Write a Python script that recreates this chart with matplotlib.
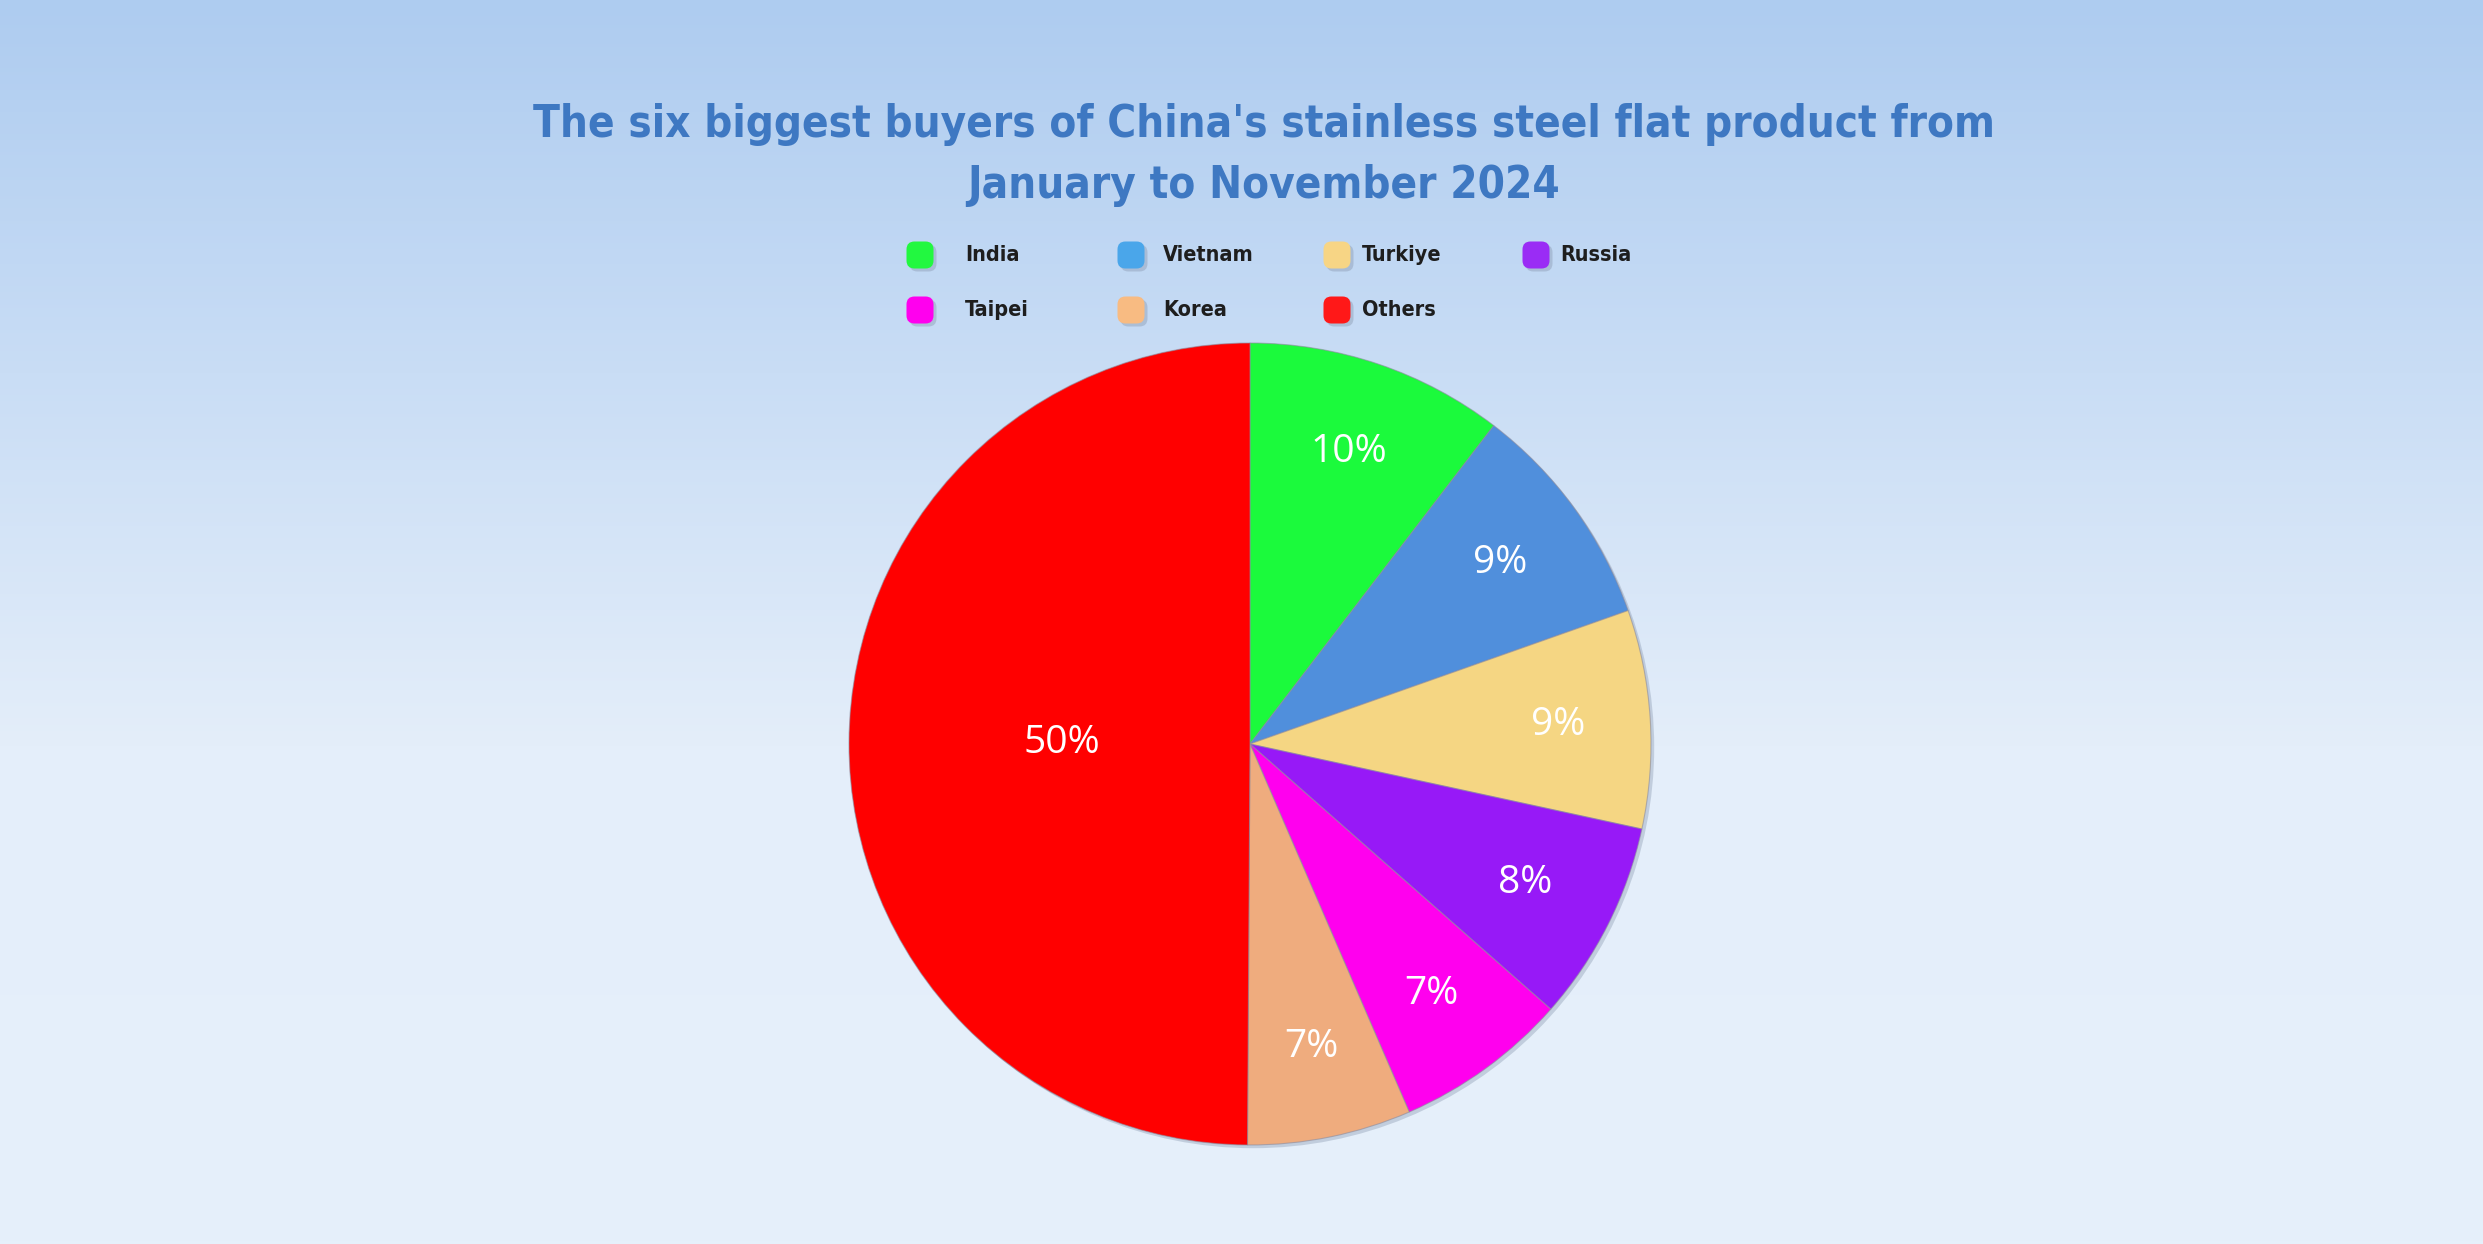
import numpy as np
import matplotlib
matplotlib.use("Agg")
import matplotlib.pyplot as plt
from matplotlib.patches import FancyBboxPatch, Circle

# data
countries = ["India", "Vietnam", "Turkiye", "Russia", "Taipei", "Korea", "Others"]
shares = [10.4, 9.2, 8.8, 8.1, 7.0, 6.6, 49.9]
pie_colors = ["#1bfa3c", "#508fdc", "#f5d683", "#9719f7", "#ff00ee", "#efac7e", "#ff0000"]
legend_colors = ["#22f840", "#4aa6ea", "#f7d585", "#9a2cf5", "#ff00ee", "#f8bb82", "#ff1818"]
title = "The six biggest buyers of China's stainless steel flat product from\nJanuary to November 2024"

W, H = 2483, 1244

fig = plt.figure(figsize=(W / 100, H / 100), dpi=100)

# background gradient, bg axes works in pixel coords
bg = fig.add_axes([0, 0, 1, 1])
top = np.array([174, 204, 240]) / 255
mid = np.array([228, 238, 250]) / 255
bot = np.array([230, 240, 251]) / 255
t = np.linspace(0, 1, 400)[:, None]
grad = np.where(t < 0.6, top + (mid - top) * (t / 0.6), mid + (bot - mid) * ((t - 0.6) / 0.4))
bg.imshow(grad[:, None, :].repeat(2, axis=1), aspect="auto", extent=[0, W, H, 0])
bg.set_xlim(0, W)
bg.set_ylim(H, 0)
bg.set_axis_off()

# pie
cx, cy, r = 1250, 744, 401
ax = fig.add_axes([(cx - r * 1.02) / W, (H - cy - r * 1.02) / H, 2.04 * r / W, 2.04 * r / H])
ax.add_patch(Circle((0.008, -0.008), 1.0, facecolor="#8090a8", alpha=0.35, zorder=0, lw=0))
wedges, texts, autotexts = ax.pie(
    shares, colors=pie_colors, startangle=90, counterclock=False, radius=1,
    autopct="%.0f%%", pctdistance=0.77,
    wedgeprops=dict(edgecolor=(0.55, 0.55, 0.62, 0.6), linewidth=0.8, zorder=1),
    textprops=dict(color="white", fontsize=28, family="Open Sans", zorder=3),
)
# big slice label sits closer to the centre
th = np.deg2rad((wedges[-1].theta1 + wedges[-1].theta2) / 2)
autotexts[-1].set_position((0.47 * np.cos(th), 0.47 * np.sin(th)))
ax.set_xlim(-1.02, 1.02)
ax.set_ylim(-1.02, 1.02)
ax.set_aspect("equal")

# title
bg.text(1264, 155, title, ha="center", va="center", fontsize=31.5,
        fontweight="bold", family="DejaVu Sans", fontstretch="condensed",
        color="#3e78c2", linespacing=1.55)

# legend: 4 columns, two rows
marker_x = [920, 1131, 1337, 1536]
text_x = [965, 1163, 1362, 1560]
rows_y = [255, 310]
s = 27
for i, (name, col) in enumerate(zip(countries, legend_colors)):
    x = marker_x[i % 4]
    y = rows_y[i // 4]
    shadow = FancyBboxPatch((x - s / 2 + 3, y - s / 2 + 3), s, s,
                            boxstyle="round,pad=0,rounding_size=8",
                            facecolor="#7d8aa0", alpha=0.35, edgecolor="none")
    box = FancyBboxPatch((x - s / 2, y - s / 2), s, s,
                         boxstyle="round,pad=0,rounding_size=8",
                         facecolor=col, edgecolor="none")
    bg.add_patch(shadow)
    bg.add_patch(box)
    bg.text(text_x[i % 4], y, name, ha="left", va="center", fontsize=15.5, fontweight="bold",
            family="DejaVu Sans", fontstretch="condensed", color="#1e1e1e")

fig.savefig("out.png", dpi=100)
